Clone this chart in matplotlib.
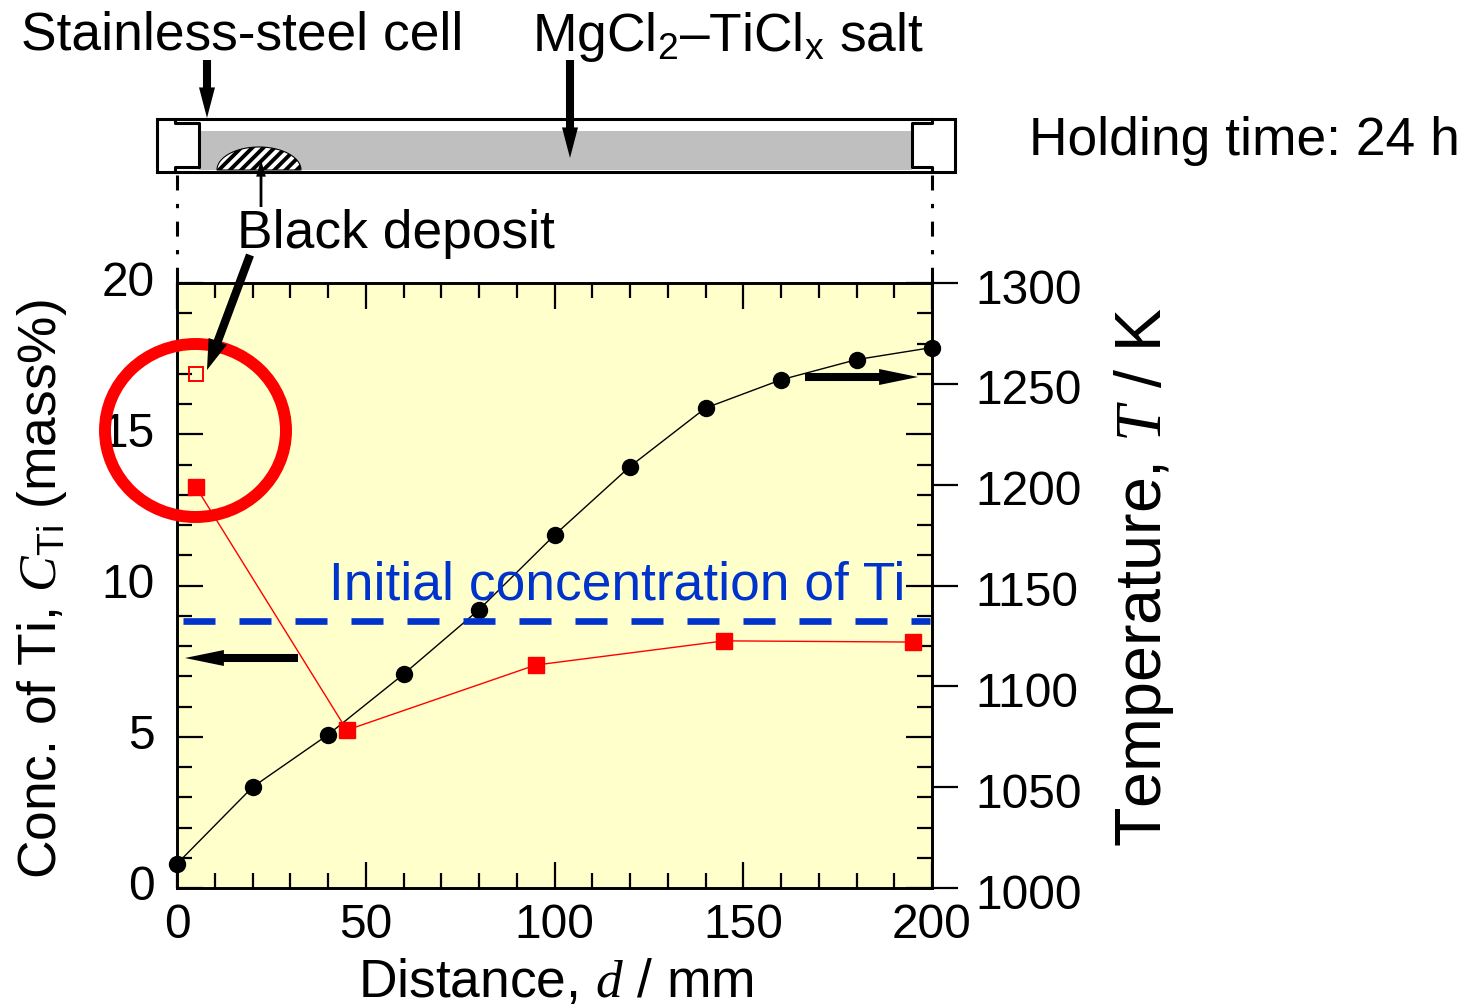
import matplotlib
matplotlib.use('Agg')
import matplotlib.pyplot as plt
from matplotlib.patches import Ellipse, Rectangle, Polygon
from matplotlib.ticker import MultipleLocator
from matplotlib.transforms import ScaledTranslation
import numpy as np

plt.rcParams['font.family'] = ['Liberation Sans', 'DejaVu Sans']
plt.rcParams['mathtext.fontset'] = 'custom'
plt.rcParams['mathtext.rm'] = 'Liberation Sans'
plt.rcParams['mathtext.it'] = 'Liberation Serif:italic'
plt.rcParams['mathtext.default'] = 'regular'
plt.rcParams['hatch.linewidth'] = 2.8

# temperature profile
temp_d = [0, 20, 40, 60, 80, 100, 120, 140, 160, 180, 200]
temp_K = [1012, 1050, 1076, 1106, 1138, 1175, 1209, 1238, 1252, 1262, 1268]

# Ti concentration in the salt
ti_d = [5, 45, 95, 145, 195]
ti_conc = [13.26, 5.22, 7.37, 8.17, 8.13]

# black deposit
deposit_d = [5]
deposit_conc = [17.0]

initial_conc = 8.83

FS = 34.5
FS_TEXT = 38.4
W, H = 1476, 1008
L, R, T, B = 177, 932, 283, 888

fig = plt.figure(figsize=(W / 100, H / 100), dpi=100)
ax = fig.add_axes([L / W, 1 - B / H, (R - L) / W, (B - T) / H])
ax2 = ax.twinx()
ax.set_zorder(ax2.get_zorder() + 1)
ax.patch.set_visible(False)
ax2.patch.set_visible(True)
ax2.patch.set_facecolor('#FFFFCC')

ax2.plot(temp_d, temp_K, '-o', color='k', lw=1, ms=11.5, clip_on=False)
ax.plot(ti_d, ti_conc, '-s', color='#FF0000', lw=1, ms=12, clip_on=False)
ax.plot(deposit_d, deposit_conc, 's', mfc='none', mec='#FF0000', mew=1.4, ms=10.5)
ax.plot([1.6, 199.5], [initial_conc, initial_conc], color='#0033CC', lw=4.8,
        dashes=(4.8, 3.6))

ax.set_xlim(0, 200)
ax.set_ylim(0, 20)
ax2.set_ylim(1000, 1300)

ax.xaxis.set_major_locator(MultipleLocator(50))
ax.xaxis.set_minor_locator(MultipleLocator(10))
ax.yaxis.set_major_locator(MultipleLocator(5))
ax.yaxis.set_minor_locator(MultipleLocator(1))
ax2.yaxis.set_major_locator(MultipleLocator(50))

ax.tick_params(which='major', direction='in', length=19, width=1.6, top=True,
               right=True, labelsize=FS, pad=16)
ax.tick_params(which='minor', direction='in', length=10.5, width=1.6, top=True, right=True)
ax.tick_params(axis='x', which='major', pad=11)
ax2.tick_params(axis='y', which='major', direction='out', length=19, width=1.6,
                labelsize=FS, pad=12)
for a in (ax, ax2):
    for s in a.spines.values():
        s.set_linewidth(1.9)

# tick labels sit a few pixels off their ticks in the original
up = ScaledTranslation(0, 5 / 100, fig.dpi_scale_trans)
down = ScaledTranslation(0, -3 / 100, fig.dpi_scale_trans)
for label in ax.get_yticklabels():
    label.set_transform(label.get_transform() + up)
for label in ax2.get_yticklabels():
    label.set_transform(label.get_transform() + down)

# overlay in pixel coordinates for the cell sketch and arrows
ov = fig.add_axes([0, 0, 1, 1], zorder=10)
ov.set_xlim(0, W)
ov.set_ylim(H, 0)
ov.axis('off')


def arrow(x0, y0, x1, y1, width=5.8, headwidth=11.5, headlength=28):
    ov.annotate('', xy=(x1, y1), xytext=(x0, y0),
                arrowprops=dict(width=width, headwidth=headwidth, headlength=headlength,
                                shrink=0, fc='k', ec='k', lw=0))


ov.text(42, 589, r'Conc. of Ti, $\mathit{C}_{Ti}$ (mass%)', rotation=90, fontsize=FS_TEXT,
        ha='center', va='center')
ov.text(1144, 577, r'Temperature, $\mathit{T}$ / K', rotation=90, fontsize=46.5,
        ha='center', va='center')
ov.text(556, 983, r'Distance, $\mathit{d}$ / mm', fontsize=FS_TEXT, ha='center', va='center')

# cell
lw = 2.2
ov.add_patch(Rectangle((199, 131), 713, 39, fc='#BFBFBF', ec='none'))
ov.add_patch(Polygon([(157, 119), (955, 119), (955, 172), (157, 172)], closed=True,
                     fc='none', ec='k', lw=lw))
ov.plot([175, 175, 199, 199, 175, 175], [119, 123, 123, 167, 167, 172], color='k', lw=lw)
ov.plot([932, 932, 912, 912, 932, 932], [119, 123, 123, 167, 167, 172], color='k', lw=lw)
theta = np.radians(np.linspace(180, 360, 60))
dep_x = 259 + 42 * np.cos(theta)
dep_y = 170 + 23 * np.sin(theta)
ov.add_patch(Polygon(np.column_stack([dep_x, dep_y]), closed=True, fc='white', ec='k',
                     lw=0.8, hatch='///'))
ov.plot([177, 177], [175, 283], color='k', lw=2.2, dashes=(4.9, 4.4, 1.4, 4.4))
ov.plot([932, 932], [175, 283], color='k', lw=2.2, dashes=(4.9, 4.4, 1.4, 4.4))

# arrows
arrow(207, 60, 207, 118, headlength=22)
arrow(570, 60, 570, 158, headlength=22)
arrow(261, 207, 261, 160, width=2, headwidth=7, headlength=12)
arrow(250, 255, 207, 370, width=6, headwidth=14, headlength=22)
arrow(805, 377, 918, 377)
arrow(298, 658, 185, 658)

ov.add_patch(Ellipse((195.5, 430.5), 181, 173, fc='none', ec='#FF0000', lw=8.6))

ov.text(242, 35, 'Stainless-steel cell', fontsize=FS_TEXT, ha='center', va='center')
ov.text(728, 37, r'MgCl$_2$–TiCl$_x$ salt', fontsize=FS_TEXT, ha='center', va='center')
ov.text(1244, 141, 'Holding time: 24 h', fontsize=FS_TEXT, ha='center', va='center')
ov.text(396, 234, 'Black deposit', fontsize=FS_TEXT, ha='center', va='center')
ov.text(617, 585, 'Initial concentration of Ti', fontsize=FS_TEXT, color='#0033CC',
        ha='center', va='center')

fig.savefig('out.png', dpi=100)
